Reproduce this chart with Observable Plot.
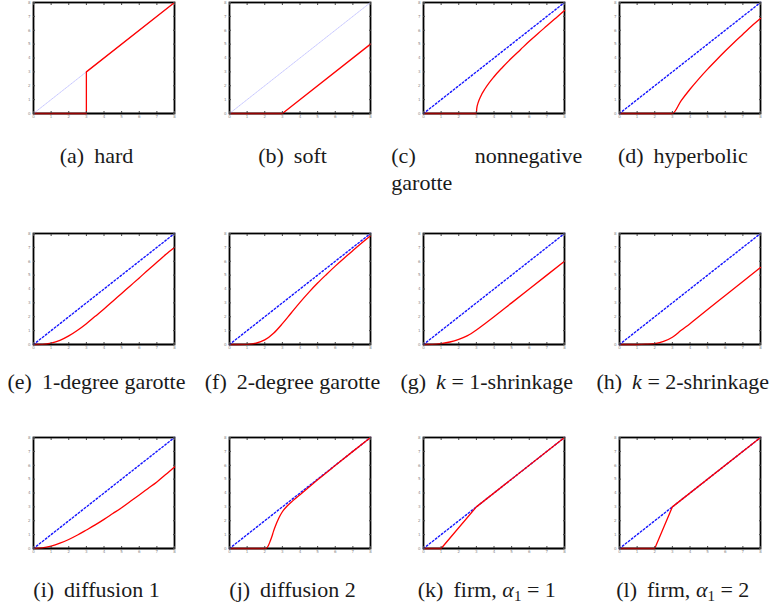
<!DOCTYPE html>
<html><head><meta charset="utf-8">
<script src="https://cdn.jsdelivr.net/npm/d3@7"></script>
<script src="https://cdn.jsdelivr.net/npm/@observablehq/plot@0.6"></script>
<style>
body{margin:0;background:#fff;}
#wrap{position:relative;width:780px;height:608px;overflow:hidden;background:#fff;}
#wrap > svg{position:absolute;}
.cap text{font-family:"Liberation Serif","Tinos","Times New Roman",Times,serif;font-size:22px;fill:#1a1a1a;}
</style></head><body><div id="wrap"></div>
<script>
// ---------- data ----------
const tickValues = [0, 1, 2, 3, 4, 5, 6, 7, 8];
const identityX = [0, 8];
const identityY = [0, 8];

const hardX = [0, 3, 3, 8];
const hardY = [0, 0, 3, 8];
const softX = [0, 3, 8];
const softY = [0, 0, 5];
const nngX = [0, 3, 3.02, 3.1, 3.25, 3.5, 4, 4.5, 5, 5.5, 6, 6.5, 7, 7.5, 8];
const nngY = [0, 0, 0.35, 0.78, 1.25, 1.8, 2.65, 3.35, 4.0, 4.6, 5.2, 5.77, 6.32, 6.87, 7.42];
const hypX = [0, 3, 3.5, 4, 4.5, 5, 5.5, 6, 6.5, 7, 7.5, 8];
const hypY = [0, 0, 0.93, 1.75, 2.5, 3.2, 3.86, 4.5, 5.12, 5.71, 6.3, 6.85];
const gar1X = [0, 0.5, 1, 1.5, 2, 2.5, 3, 3.5, 4, 4.5, 5, 5.5, 6, 6.5, 7, 7.5, 8];
const gar1Y = [0, 0.01, 0.1, 0.3, 0.62, 1.03, 1.5, 2.03, 2.56, 3.12, 3.68, 4.24, 4.8, 5.37, 5.92, 6.48, 7.0];
const gar2X = [0, 0.5, 1, 1.5, 2, 2.5, 3, 3.5, 4, 4.5, 5, 5.5, 6, 6.5, 7, 7.5, 8];
const gar2Y = [0, 0, 0.01, 0.09, 0.33, 0.81, 1.5, 2.27, 3.04, 3.76, 4.43, 5.05, 5.65, 6.22, 6.77, 7.31, 7.84];
const shr1X = [0, 0.5, 1, 1.5, 2, 2.5, 3, 3.5, 4, 5, 6, 7, 8];
const shr1Y = [0, 0.01, 0.07, 0.18, 0.37, 0.64, 1.05, 1.52, 2.0, 3.0, 4.0, 5.0, 6.0];
const shr2X = [0, 1, 1.5, 2, 2.5, 3, 3.5, 4, 5, 6, 7, 8];
const shr2Y = [0, 0, 0.02, 0.07, 0.22, 0.52, 1.02, 1.5, 2.52, 3.53, 4.54, 5.55];
const dif1X = [0, 0.5, 1, 1.5, 2, 2.5, 3, 3.5, 4, 4.5, 5, 5.5, 6, 6.5, 7, 7.5, 8];
const dif1Y = [0, 0.04, 0.17, 0.38, 0.65, 0.97, 1.33, 1.7, 2.1, 2.52, 2.94, 3.4, 3.86, 4.33, 4.8, 5.33, 5.88];
const dif2X = [0, 2, 2.1, 2.2, 2.3, 2.4, 2.5, 2.6, 2.8, 3.0, 3.3, 3.6, 4.0, 4.5, 5, 6, 7, 8];
const dif2Y = [0, 0, 0.03, 0.2, 0.5, 0.85, 1.25, 1.6, 2.2, 2.65, 3.1, 3.45, 3.88, 4.42, 4.95, 5.98, 7, 8];
const firm1X = [0, 1, 3, 8];
const firm1Y = [0, 0, 3, 8];
const firm2X = [0, 2, 3, 8];
const firm2Y = [0, 0, 3, 8];

const tags = ["(a)", "(b)", "(c)", "(d)", "(e)", "(f)", "(g)", "(h)", "(i)", "(j)", "(k)", "(l)"];
const captions = [
  [{t: "hard"}],
  [{t: "soft"}],
  [{t: "nonnegative"}],
  [{t: "hyperbolic"}],
  [{t: "1-degree garotte"}],
  [{t: "2-degree garotte"}],
  [{t: "k", i: true}, {t: " = 1-shrinkage"}],
  [{t: "k", i: true}, {t: " = 2-shrinkage"}],
  [{t: "diffusion 1"}],
  [{t: "diffusion 2"}],
  [{t: "firm, "}, {t: "α", i: true}, {t: "1", sub: true}, {t: " = 1", after: true}],
  [{t: "firm, "}, {t: "α", i: true}, {t: "1", sub: true}, {t: " = 2", after: true}]
];
const captionSecondLine = {2: "garotte"};

const series = [
  [hardX, hardY, "linear", "faint"],
  [softX, softY, "linear", "faint"],
  [nngX, nngY, "monotone-x", "dot"],
  [hypX, hypY, "monotone-x", "dot"],
  [gar1X, gar1Y, "monotone-x", "dot"],
  [gar2X, gar2Y, "monotone-x", "dot"],
  [shr1X, shr1Y, "monotone-x", "dot"],
  [shr2X, shr2Y, "monotone-x", "dot"],
  [dif1X, dif1Y, "monotone-x", "dot"],
  [dif2X, dif2Y, "monotone-x", "dot"],
  [firm1X, firm1Y, "linear", "dot"],
  [firm2X, firm2Y, "linear", "dot"]
];

// ---------- layout ----------
const colLeft = [33, 229, 423.3, 619.3];
const rowTop = [2, 233, 437];
const PW = 141, PH = 111;
const ML = 10, MR = 4, MT = 4, MB = 9;
const capBase = [163, 389, 597];
const capShift = -7;

const wrap = document.getElementById("wrap");
const identity = identityX.map((x, j) => ({x, y: identityY[j]}));

series.forEach(([xs, ys, curve, idStyle], i) => {
  const r = Math.floor(i / 4), c = i % 4;
  const data = xs.map((x, j) => ({x, y: ys[j]}));
  const idMark = idStyle === "faint"
    ? Plot.line(identity, {x: "x", y: "y", stroke: "#b8b8ff", strokeWidth: 0.8, strokeDasharray: "1,1"})
    : Plot.line(identity, {x: "x", y: "y", stroke: "#1414ff", strokeWidth: 1.4, strokeDasharray: "1.6,2.2"});
  const blank = () => "";
  const svg = Plot.plot({
    width: PW + ML + MR,
    height: PH + MT + MB,
    marginLeft: ML, marginRight: MR, marginTop: MT, marginBottom: MB,
    style: {background: "transparent", overflow: "visible"},
    x: {domain: [0, 8], label: null},
    y: {domain: [0, 8], label: null},
    marks: [
      Plot.frame({stroke: "#000", strokeWidth: 1.8}),
      idMark,
      Plot.line(data, {x: "x", y: "y", stroke: "#ff0000", strokeWidth: 1.3, curve}),
      Plot.ruleY([0], {stroke: "#000", strokeOpacity: 0.42, strokeWidth: 2}),
      Plot.axisX(tickValues, {anchor: "bottom", label: null, tickSize: 0, tickPadding: 2, fontSize: 4, fill: "#888", fontFamily: "DejaVu Sans"}),
      Plot.axisY(tickValues, {anchor: "left", label: null, tickSize: 0, tickPadding: 3, fontSize: 4, fill: "#888", fontFamily: "DejaVu Sans"}),
      Plot.axisX(tickValues, {anchor: "bottom", label: null, tickSize: -2, tickFormat: blank, stroke: "#444"}),
      Plot.axisX(tickValues, {anchor: "top", label: null, tickSize: -2, tickFormat: blank, stroke: "#444"}),
      Plot.axisY(tickValues, {anchor: "left", label: null, tickSize: -2, tickFormat: blank, stroke: "#444"}),
      Plot.axisY(tickValues, {anchor: "right", label: null, tickSize: -2, tickFormat: blank, stroke: "#444"})
    ]
  });
  svg.style.left = (colLeft[c] - ML) + "px";
  svg.style.top = (rowTop[r] - MT) + "px";
  wrap.appendChild(svg);
});

// ---------- captions ----------
const cap = d3.select(wrap).append("svg")
  .attr("class", "cap")
  .attr("width", 780).attr("height", 608)
  .style("left", "0px").style("top", "0px");

captions.forEach((segs, i) => {
  const r = Math.floor(i / 4), c = i % 4;
  const cx = colLeft[c] + PW / 2 + capShift;
  const y = capBase[r];
  if (captionSecondLine[i]) {
    const left = cx - 95.5, right = cx + 95.5;
    cap.append("text").attr("x", left).attr("y", y).text(tags[i]);
    const t = cap.append("text").attr("x", right).attr("y", y).attr("text-anchor", "end");
    segs.forEach(s => t.append("tspan").text(s.t));
    cap.append("text").attr("x", left).attr("y", y + 27).text(captionSecondLine[i]);
    return;
  }
  const t = cap.append("text").attr("x", cx).attr("y", y).attr("text-anchor", "middle").attr("xml:space", "preserve");
  t.append("tspan").text(tags[i]);
  segs.forEach((s, k) => {
    const ts = t.append("tspan").text(s.t);
    if (k === 0) ts.attr("dx", 10);
    if (s.i) ts.style("font-style", "italic");
    if (s.sub) ts.style("font-size", "15px").attr("dy", 4);
    if (s.after) ts.attr("dy", -4);
  });
});
</script>
</body></html>
